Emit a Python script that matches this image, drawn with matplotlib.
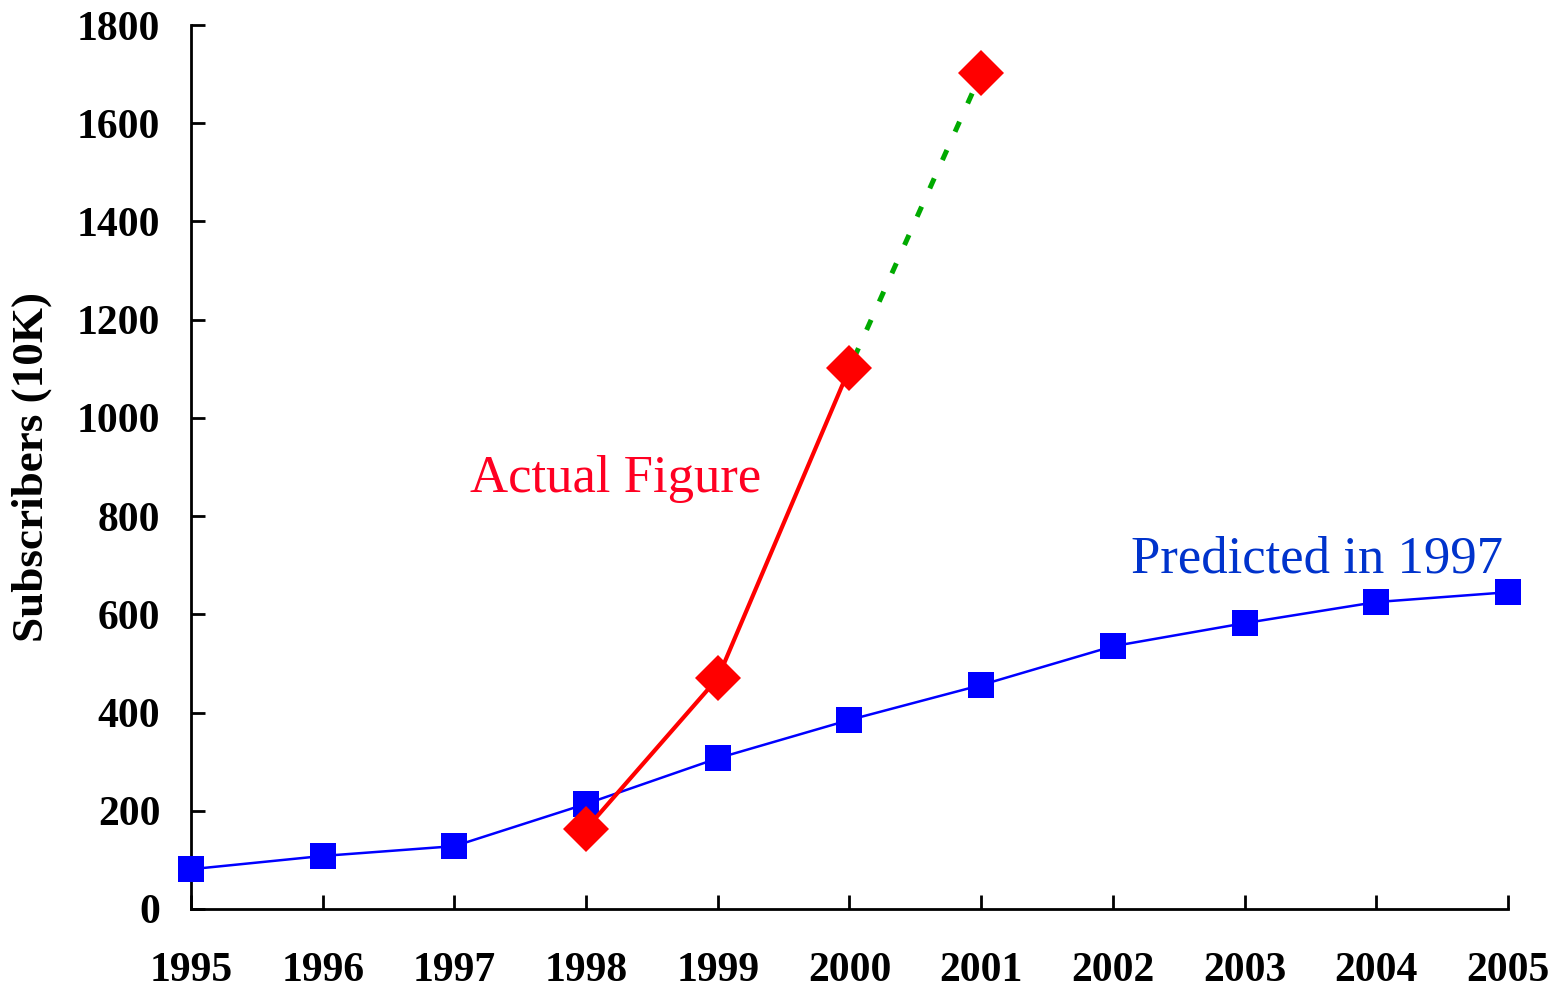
import matplotlib.pyplot as plt

plt.rcParams['font.family'] = ['Liberation Serif', 'DejaVu Serif']

# data (units of 10K subscribers)
years = [1995, 1996, 1997, 1998, 1999, 2000, 2001, 2002, 2003, 2004, 2005]
predicted = [81, 108, 128, 214, 307, 385, 456, 535, 582, 625, 645]

actualYears = [1998, 1999, 2000]
actual = [163, 470, 1101]
estYears = [2000, 2001]
estimate = [1101, 1702]

fig = plt.figure(figsize=(15.57, 9.89), dpi=100)
ax = fig.add_axes([0.1227, 0.0809, 0.8458, 0.8938])

# predicted line (blue squares)
ax.plot(years, predicted, color='#0000ff', linewidth=1.8, marker='s',
        markersize=19, markeredgewidth=0, clip_on=False, zorder=3)

# estimated part (green dotted) drawn under the markers
ax.plot(estYears, estimate, color='#00aa00', linewidth=3.6,
        linestyle=(4, (2.2, 4.0)), zorder=2)

# actual figures (red diamonds)
ax.plot(actualYears, actual, color='#ff0000', linewidth=3.0, zorder=4)
ax.plot(actualYears + [2001], actual + [estimate[-1]], linestyle='none',
        marker='D', markersize=23, color='#ff0000', markeredgewidth=0,
        clip_on=False, zorder=5)

ax.text(1997.12, 849, "Actual Figure", color='#ff0022', fontsize=38)
ax.text(2002.14, 686, "Predicted in 1997", color='#0033cc', fontsize=38)

ax.set_xlim(1995, 2005)
ax.set_ylim(0, 1800)
ax.set_xticks(years)
ax.set_yticks(range(0, 1801, 200))
ax.set_xticklabels([str(y) for y in years])

for lab in ax.get_xticklabels() + ax.get_yticklabels():
    lab.set_fontweight('bold')
ax.tick_params(axis='both', direction='in', length=10, width=2, labelsize=30)
ax.tick_params(axis='x', pad=31)
ax.tick_params(axis='y', pad=22)

ax.spines['top'].set_visible(False)
ax.spines['right'].set_visible(False)
ax.spines['left'].set_linewidth(2)
ax.spines['bottom'].set_linewidth(2)

ax.set_ylabel("Subscribers (10K)", fontsize=32.5, fontweight='bold')
ax.yaxis.set_label_coords(-0.1055, 0.5)

fig.savefig('out.png', dpi=100)
